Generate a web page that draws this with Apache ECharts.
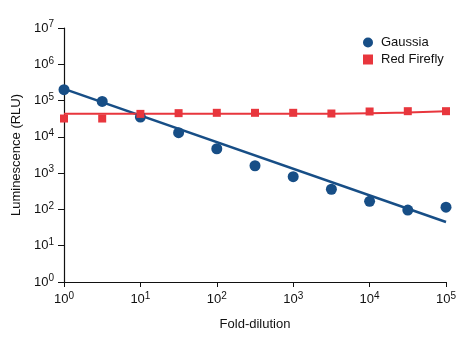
<!DOCTYPE html>
<html><head><meta charset="utf-8">
<script src="https://cdn.jsdelivr.net/npm/echarts@6/dist/echarts.min.js"></script>
<style>html,body{margin:0;padding:0;background:#fff}#c{width:469px;height:342px}</style>
</head><body><div id="c"></div>
<script>
const dilutions = [1, 3.162, 10, 31.62, 100, 316.2, 1000, 3162, 10000, 31623, 100000];
const gaussia = [2.0e5, 9.5e4, 3.5e4, 1.3e4, 4.7e3, 1.6e3, 8.0e2, 3.6e2, 1.67e2, 96, 115];
const redFirefly = [3.2e4, 3.2e4, 4.3e4, 4.5e4, 4.6e4, 4.6e4, 4.6e4, 4.4e4, 5.0e4, 5.1e4, 5.1e4];
const gaussiaFitX = [1, 100000];
const gaussiaFitY = [2.1e5, 45];
const redFitX = [1, 1000, 10000, 31623, 100000];
const redFitY = [4.33e4, 4.35e4, 4.45e4, 4.7e4, 5.1e4];
const seriesNames = ['Gaussia', 'Red Firefly'];
const xTitle = 'Fold-dilution';
const yTitle = 'Luminescence (RLU)';

const FONT = '"Liberation Sans Narrow", "Arial Narrow", "Liberation Sans", Arial, sans-serif';
const BLUE = '#174e86';
const RED = '#e8363d';
const TXT = '#111';
const zip = (a, b) => a.map((v, i) => [v, b[i]]);
const fmt = v => '10{sup|' + Math.round(Math.log10(v)) + '}';
const rich = { sup: { fontSize: 10, verticalAlign: 'top', padding: [0, 0, 7, 0], color: TXT, fontFamily: FONT } };

const chart = echarts.init(document.getElementById('c'));
chart.setOption({
  animation: false,
  backgroundColor: '#fff',
  grid: { left: 64, right: 23, top: 28, bottom: 60 },
  legend: {
    data: [{ name: seriesNames[0], icon: 'circle' }, { name: seriesNames[1], icon: 'rect' }],
    orient: 'vertical', left: 358, top: 31, itemGap: 4, itemWidth: 10, itemHeight: 10,
    textStyle: { fontFamily: FONT, fontSize: 13, color: TXT, padding: [0, 0, 0, 3] }
  },
  xAxis: {
    type: 'log', logBase: 10, min: 1, max: 100000,
    name: xTitle, nameLocation: 'middle', nameGap: 36,
    nameTextStyle: { fontFamily: FONT, fontSize: 13, color: TXT },
    axisLine: { lineStyle: { color: '#111', width: 1.2 } },
    axisTick: { show: true, length: 5, inside: false, lineStyle: { color: '#111' } },
    minorTick: { show: false }, splitLine: { show: false },
    axisLabel: { formatter: fmt, rich: rich, fontFamily: FONT, fontSize: 13, color: TXT, margin: 9 }
  },
  yAxis: {
    type: 'log', logBase: 10, min: 1, max: 1e7, splitNumber: 7,
    name: yTitle, nameLocation: 'middle', nameGap: 36, nameRotate: 90,
    nameTextStyle: { fontFamily: FONT, fontSize: 13, color: TXT },
    axisLine: { show: true, lineStyle: { color: '#111', width: 1.2 } },
    axisTick: { show: true, length: 6, inside: false, lineStyle: { color: '#111' } },
    minorTick: { show: false }, splitLine: { show: false },
    axisLabel: { formatter: fmt, rich: rich, fontFamily: FONT, fontSize: 13, color: TXT, margin: 10 }
  },
  series: [
    { name: 'Gaussia fit', type: 'line', data: zip(gaussiaFitX, gaussiaFitY), symbol: 'none',
      lineStyle: { color: BLUE, width: 2.5 }, z: 2 },
    { name: 'Red Firefly fit', type: 'line', data: zip(redFitX, redFitY), symbol: 'none', smooth: true,
      lineStyle: { color: RED, width: 2 }, z: 2 },
    { name: seriesNames[0], type: 'scatter', data: zip(dilutions, gaussia), symbol: 'circle', symbolSize: 11,
      itemStyle: { color: BLUE, opacity: 1 }, z: 3 },
    { name: seriesNames[1], type: 'scatter', data: zip(dilutions, redFirefly), symbol: 'rect', symbolSize: 8,
      itemStyle: { color: RED, opacity: 1 }, z: 4 }
  ]
});
</script></body></html>
